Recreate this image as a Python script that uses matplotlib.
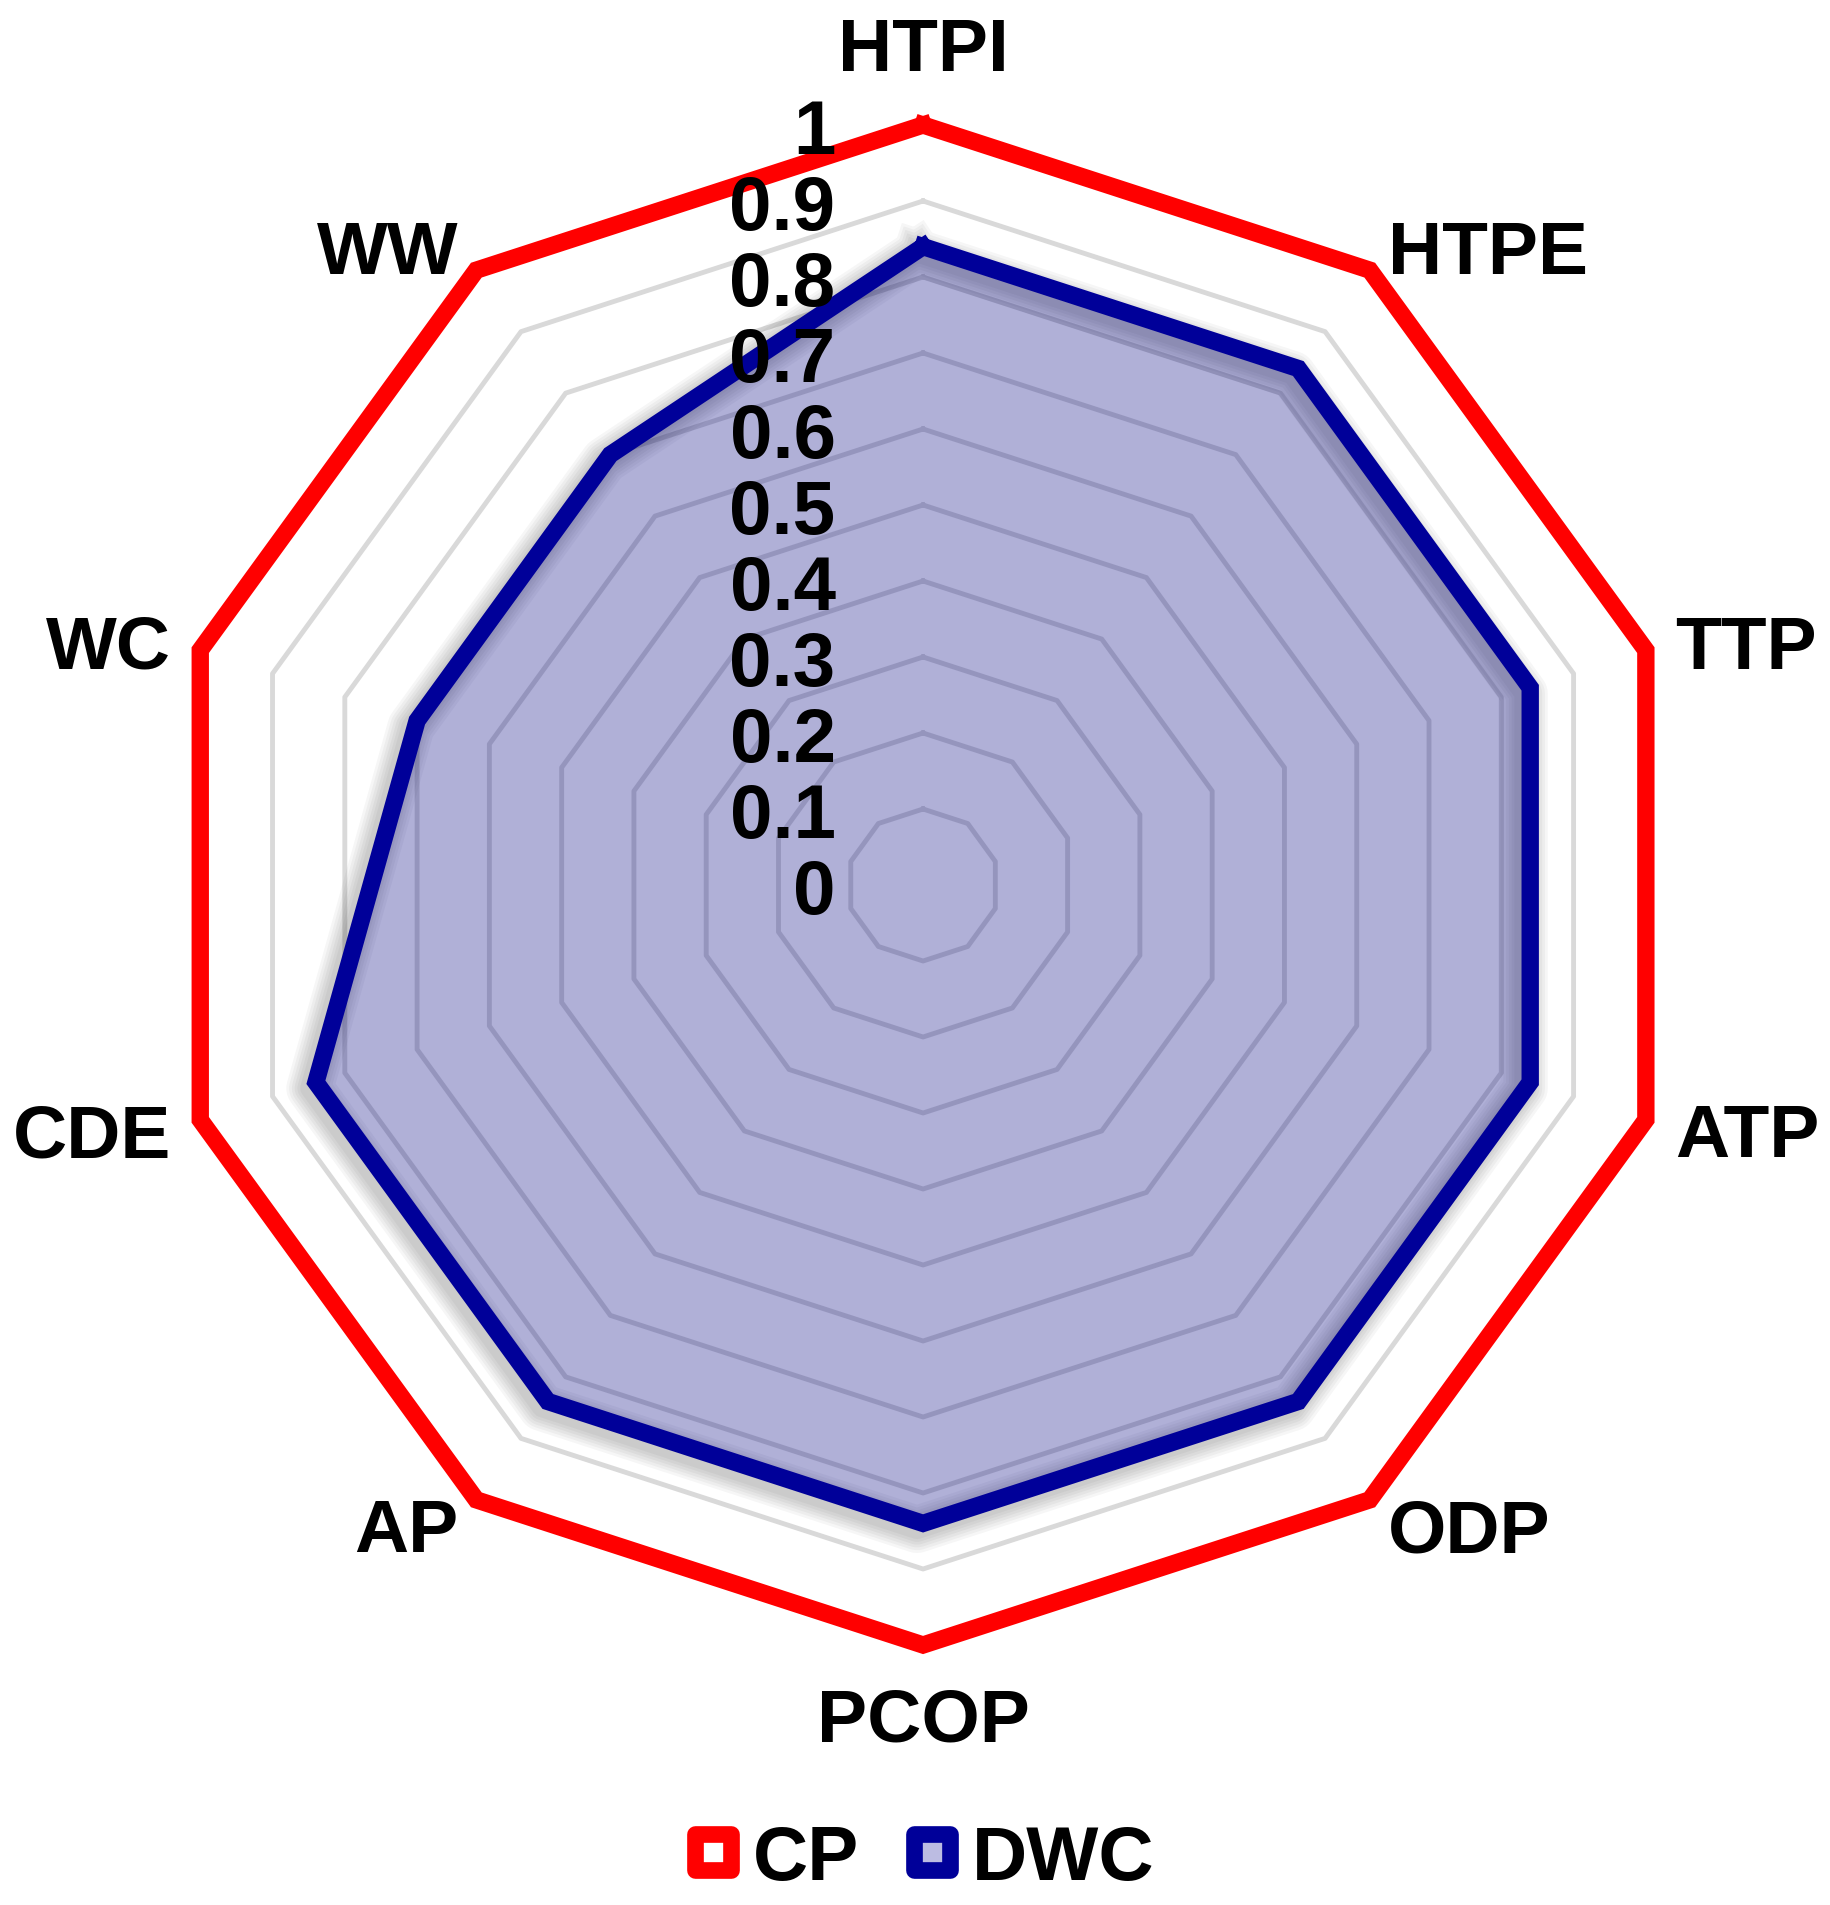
import numpy as np
import matplotlib
matplotlib.use("Agg")
import matplotlib.pyplot as plt
from matplotlib.lines import Line2D
from matplotlib.markers import MarkerStyle
from matplotlib.transforms import offset_copy

plt.rcParams['font.family'] = ['Liberation Sans', 'DejaVu Sans']
plt.rcParams['font.weight'] = 'bold'

categories = ["HTPI", "HTPE", "TTP", "ATP", "ODP", "PCOP", "AP", "CDE", "WC", "WW"]
cp_values = [1.0, 1.0, 1.0, 1.0, 1.0, 1.0, 1.0, 1.0, 1.0, 1.0]
dwc_values = [0.84, 0.84, 0.84, 0.84, 0.84, 0.84, 0.84, 0.84, 0.70, 0.70]
grid_levels = [0.1, 0.2, 0.3, 0.4, 0.5, 0.6, 0.7, 0.8, 0.9, 1.0]
tick_values = [0, 0.1, 0.2, 0.3, 0.4, 0.5, 0.6, 0.7, 0.8, 0.9, 1]
tick_labels = ["0", "0.1", "0.2", "0.3", "0.4", "0.5", "0.6", "0.7", "0.8", "0.9", "1"]

RED = "#ff0000"
NAVY = "#000099"

n = len(categories)
angles = np.linspace(0, 2 * np.pi, n, endpoint=False)
ang_closed = np.append(angles, angles[0])


def closed(v):
    return np.append(v, v[0])


fig = plt.figure(figsize=(18.3, 19.06), dpi=100)
ax = fig.add_axes([0.0891, 0.1364, 0.8306, 0.7975], projection="polar")
ax.set_theta_zero_location("N")
ax.set_theta_direction(-1)
ax.set_ylim(0, 1)
ax.grid(False)
ax.set_xticks([])
ax.set_yticks([])
ax.spines["polar"].set_visible(False)
ax.patch.set_alpha(0)

# polygon gridlines
for lvl in grid_levels:
    ax.plot(ang_closed, [lvl] * (n + 1), color="#d9d9d9", lw=3.5, zorder=1,
            clip_on=False)

# soft shadow for DWC series (stacked translucent strokes, shifted down-left)
shadow_tr = offset_copy(ax.transData, fig=fig, x=-6, y=-6, units="dots")
for w in [34, 30, 26, 22, 18, 14]:
    ax.plot(ang_closed, closed(dwc_values), color="black", lw=w, alpha=0.035,
            transform=shadow_tr, solid_joinstyle="round", zorder=2, clip_on=False)

# series
ax.fill(ang_closed, closed(dwc_values), color="#000080", alpha=0.31, lw=0, zorder=3)
ax.plot(ang_closed, closed(dwc_values), color=NAVY, lw=12.5, zorder=4,
        solid_joinstyle="miter", clip_on=False)
ax.plot(ang_closed, closed(cp_values), color=RED, lw=12.5, zorder=4,
        solid_joinstyle="miter", clip_on=False)

# radial tick labels along the top axis, left of it
for v, lab in zip(tick_values, tick_labels):
    ax.annotate(lab, xy=(0, v), xytext=(-63, 0), textcoords="offset points",
                ha="right", va="center_baseline", fontsize=55, fontweight="bold",
                zorder=6, annotation_clip=False)

# category labels
lab_size = 54
for a, lab in zip(angles, categories):
    s, c = np.sin(a), np.cos(a)
    if abs(s) < 1e-6:
        if c > 0:
            ax.text(a, 1.072, lab, ha="center", va="baseline", fontsize=lab_size,
                    fontweight="bold", zorder=6)
        else:
            ax.text(a, 1.055, lab, ha="center", va="top", fontsize=lab_size,
                    fontweight="bold", zorder=6)
        continue
    ha = "left" if s > 0 else "right"
    ax.text(a, 1.04, lab, ha=ha, va="center_baseline", fontsize=lab_size,
            fontweight="bold", zorder=6)

# legend
handles = [
    Line2D([], [], ls="none", marker=MarkerStyle("s", joinstyle="round"),
           markersize=26.5, markerfacecolor="white",
           markeredgecolor=RED, markeredgewidth=12),
    Line2D([], [], ls="none", marker=MarkerStyle("s", joinstyle="round"),
           markersize=26.5, markerfacecolor="#bcbce2", markeredgecolor=NAVY,
           markeredgewidth=12),
]
fig.legend(handles, ["CP", "DWC"], ncol=2, loc="center",
           bbox_to_anchor=(0.502, 0.024), frameon=False,
           prop={"size": 55, "weight": "bold"}, handlelength=0.8,
           handletextpad=0.12, columnspacing=0.55)

fig.savefig("out.png", dpi=100, facecolor="white")
